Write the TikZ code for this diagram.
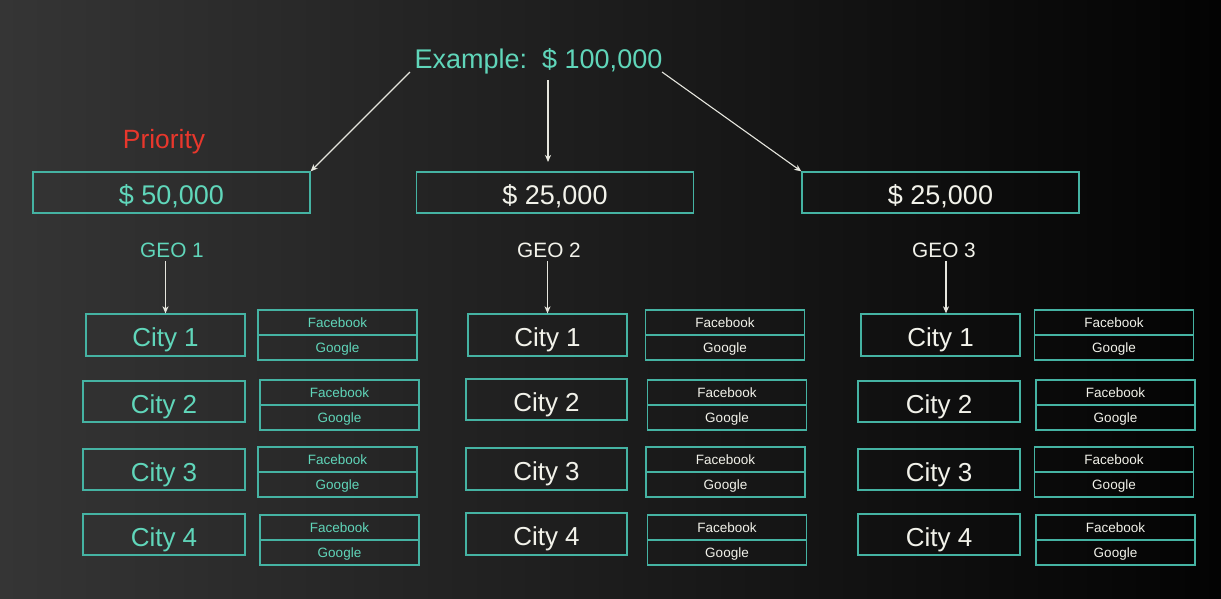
\documentclass[tikz,border=0pt]{standalone}
\usepackage{fontspec}
\setmainfont{Liberation Sans}
\usetikzlibrary{arrows.meta}
\definecolor{bgL}{HTML}{353535}
\definecolor{bgR}{HTML}{030303}
\definecolor{tealtext}{HTML}{60D6BA}
\definecolor{edge}{HTML}{45B3A3}
\definecolor{prio}{HTML}{E8372C}
\definecolor{wtext}{HTML}{F2F2EA}
\definecolor{arrc}{HTML}{E6E6DE}
\newcommand\fbstack[4]{%
  \node[sbox,text=#4] (#1f) at (#2,#3+12.5) {Facebook};
  \node[sbox,text=#4] (#1g) at (#2,#3+37.5) {Google};}
\begin{document}
\begin{tikzpicture}[x=1pt,y=-1pt,
  bigbox/.style={draw=edge,line width=1.3pt,inner sep=0pt,minimum width=277pt,minimum height=41pt,font=\fontsize{27}{31}\selectfont,text height=23pt,text depth=0pt},
  citybox/.style={draw=edge,line width=1.3pt,inner sep=0pt,minimum height=41pt,font=\fontsize{26}{30}\selectfont,text height=23.4pt,text depth=0pt},
  sbox/.style={draw=edge,line width=1.3pt,inner sep=0pt,minimum width=159pt,minimum height=25pt,font=\fontsize{13.5}{16}\selectfont,text height=10pt,text depth=0pt},
  geolbl/.style={inner sep=0pt,font=\fontsize{20.8}{24}\selectfont,text height=15pt,text depth=0pt},
  arr/.style={draw=arrc,line width=1.1pt,-{Stealth[length=7pt,width=6pt,inset=2pt]}}]
\shade[left color=bgL,right color=bgR] (0,0) rectangle (1221,598);
\useasboundingbox (0,0) rectangle (1221,598);
% title
\node[inner sep=0pt,text=tealtext,font=\fontsize{27}{31}\selectfont,text height=19pt,text depth=0pt] (ex) at (538.5,59) {Example:\ \ \$ 100,000};
\node[inner sep=0pt,text=prio,font=\fontsize{26.4}{30}\selectfont,text height=19pt,text depth=0pt] (prio) at (164,138.5) {Priority};
% budget boxes
\node[bigbox,text=tealtext] (b1) at (171.5,192.5) {\$ 50,000};
\node[bigbox,text=wtext] (b2) at (555,192.5) {\$ 25,000};
\node[bigbox,text=wtext] (b3) at (940.5,192.5) {\$ 25,000};
\coordinate (exL) at (410,72);
\coordinate (exM) at (548,80);
\coordinate (exR) at (662,72);
\coordinate (b2t) at (548,162);
\draw[arr] (exL) -- (b1.north east);
\draw[arr] (exM) -- (b2t);
\draw[arr] (exR) -- (b3.north west);
% geo labels
\node[geolbl,text=tealtext] (g1) at (172,249.5) {GEO 1};
\node[geolbl,text=wtext] (g2) at (549,249.5) {GEO 2};
\node[geolbl,text=wtext] (g3) at (944,249.5) {GEO 3};
% column 1
\node[citybox,text=tealtext,minimum width=159pt,minimum height=42pt] (c11) at (165.5,335) {City 1};
\node[citybox,text=tealtext,minimum width=162pt] (c12) at (164,401.5) {City 2};
\node[citybox,text=tealtext,minimum width=162pt] (c13) at (164,469.5) {City 3};
\node[citybox,text=tealtext,minimum width=162pt] (c14) at (164,534.5) {City 4};
\fbstack{s11}{337.5}{310}{tealtext}
\fbstack{s12}{339.5}{380}{tealtext}
\fbstack{s13}{337.5}{447}{tealtext}
\fbstack{s14}{339.5}{515}{tealtext}
% column 2
\node[citybox,text=wtext,minimum width=159pt,minimum height=42pt] (c21) at (547.5,335) {City 1};
\node[citybox,text=wtext,minimum width=161pt] (c22) at (546.5,399.5) {City 2};
\node[citybox,text=wtext,minimum width=161pt,minimum height=42pt] (c23) at (546.5,469) {City 3};
\node[citybox,text=wtext,minimum width=161pt,minimum height=42pt] (c24) at (546.5,534) {City 4};
\fbstack{s21}{725}{310}{wtext}
\fbstack{s22}{727}{380}{wtext}
\fbstack{s23}{725.5}{447}{wtext}
\fbstack{s24}{727}{515}{wtext}
% column 3
\node[citybox,text=wtext,minimum width=159pt,minimum height=42pt] (c31) at (940.5,335) {City 1};
\node[citybox,text=wtext,minimum width=162pt] (c32) at (939,401.5) {City 2};
\node[citybox,text=wtext,minimum width=162pt] (c33) at (939,469.5) {City 3};
\node[citybox,text=wtext,minimum width=162pt] (c34) at (939,534.5) {City 4};
\fbstack{s31}{1114}{310}{wtext}
\fbstack{s32}{1115.5}{380}{wtext}
\fbstack{s33}{1114}{447}{wtext}
\fbstack{s34}{1115.5}{515}{wtext}
% geo arrows
\draw[arr] ([yshift=-4pt]g1.south -| c11.north) -- (c11.north);
\draw[arr] ([yshift=-4pt]g2.south -| c21.north) -- (c21.north);
\draw[arr] ([xshift=5.5pt,yshift=-4pt]g3.south -| c31.north) -- ([xshift=5.5pt]c31.north);
\end{tikzpicture}
\end{document}
